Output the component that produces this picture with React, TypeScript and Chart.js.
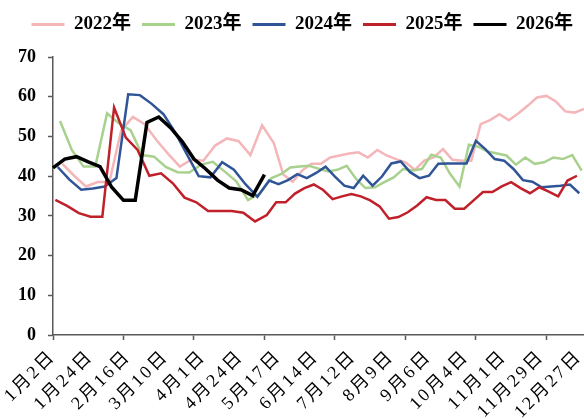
import React, { useEffect, useRef } from 'react';
import { Chart, registerables } from 'chart.js';

Chart.register(...registerables);

// ---- data ----
const SERIES_NAMES = ['2022年', '2023年', '2024年', '2025年', '2026年'];
const SERIES_YEARS = [2022, 2023, 2024, 2025, 2026];
// day of January of each series' first weekly observation
const FIRST_DAY = [7, 6, 5, 3, 2];
const COLORS = ['#F4B6B9', '#A9D18E', '#2F5597', '#C0202A', '#000000'];

const v2022 = [43.1, 40.1, 37.4, 38.5, 38.5, 51.5, 54.9, 53.1, 49.1, 45.6,
  42.4, 44.2, 43.9, 47.7, 49.5, 48.8, 45.3, 52.8, 48.3, 40.4,
  38.6, 41.4, 43.1, 43.1, 44.7, 45.2, 45.7, 46.0, 44.7, 46.6,
  45.2, 44.3, 43.5, 41.6, 43.9, 44.7, 46.8, 44.1, 43.9, 43.9,
  53.1, 54.1, 55.6, 54.1, 55.8, 57.7, 59.8, 60.2, 58.8, 56.3,
  56.0, 56.9];
const v2023 = [53.9, 46.6, 42.4, 42.4, 55.8, 53.3, 51.6, 45.3, 44.9, 42.3,
  41.0, 40.9, 42.9, 43.6, 41.2, 38.7, 34.0, 35.6, 39.5, 40.5,
  42.2, 42.4, 42.6, 41.9, 41.2, 41.6, 42.6, 39.3, 37.0, 37.2,
  38.5, 39.7, 41.8, 41.4, 41.8, 45.4, 44.7, 40.6, 37.4, 47.9,
  47.4, 46.2, 45.7, 45.2, 42.9, 44.7, 43.1, 43.5, 44.7, 44.3,
  45.3, 41.4];
const v2024 = [42.3, 39.1, 36.6, 36.9, 37.4, 39.5, 60.6, 60.4, 58.2, 55.6,
  51.0, 45.5, 40.0, 39.7, 43.5, 41.6, 37.9, 34.8, 38.9, 38.0,
  39.0, 40.5, 39.5, 40.8, 42.4, 39.9, 37.6, 37.0, 40.1, 37.6,
  39.9, 43.2, 43.7, 41.0, 39.5, 40.1, 43.1, 43.2, 43.2, 43.2,
  48.9, 46.8, 44.3, 43.9, 41.8, 39.0, 38.6, 37.2, 37.4, 37.6,
  37.9, 35.7];
const v2025 = [34.0, 32.5, 30.7, 29.8, 29.8, 57.3, 49.7, 46.6, 40.1, 40.7,
  38.2, 34.6, 33.4, 31.2, 31.2, 31.2, 30.8, 28.6, 30.2, 33.4,
  33.4, 35.6, 37.0, 37.9, 36.5, 34.2, 34.9, 35.5, 34.9, 33.9,
  32.4, 29.3, 29.7, 30.9, 32.6, 34.7, 34.0, 34.0, 31.8, 31.8,
  33.9, 36.0, 36.0, 37.4, 38.5, 37.0, 35.7, 37.2, 36.1, 34.9,
  38.9, 40.1];
const v2026 = [42.1, 44.3, 44.9, 43.6, 42.4, 37.2, 33.9, 33.9, 53.5, 54.9,
  52.2, 48.7, 44.3, 41.8, 39.0, 37.0, 36.6, 35.1, 40.4];

const SERIES_VALUES = [v2022, v2023, v2024, v2025, v2026];
const LINE_WIDTHS = [2.5, 2.5, 2.5, 2.5, 3.5];
const DRAW_ORDER = [4, 3, 2, 1, 0];

const LABEL_EVERY = 16;
const TICK_MARK_EVERY = 30;
const Y_MIN = 0;
const Y_MAX = 70;
const Y_STEP = 10;

const FONT_FAMILY = "'Liberation Serif', 'Noto Sans CJK SC', serif";

// ---- build category axis (union of month-day of every series) ----
const seriesKeys = SERIES_VALUES.map((vals, i) =>
  vals.map((_, k) => {
    const d = new Date(Date.UTC(SERIES_YEARS[i], 0, FIRST_DAY[i] + 7 * k));
    return (d.getUTCMonth() + 1) * 100 + d.getUTCDate();
  })
);
const allKeys = Array.from(new Set(seriesKeys.flat())).sort((a, b) => a - b);
const keyLabel = (k: number) => `${Math.floor(k / 100)}月${k % 100}日`;
const categories = allKeys.map(keyLabel);

const legendSpacer = {
  id: 'legendSpacer',
  beforeInit(chart: any) {
    const legend = chart.legend;
    if (!legend) return;
    const origFit = legend.fit;
    legend.fit = function fit() {
      origFit.call(this);
      this.height += 13;
    };
  },
};

// wider character spacing for the rotated date labels
const xLabelSpacing = {
  id: 'xLabelSpacing',
  beforeDraw(chart: any) {
    const sx = chart.scales.x;
    if (!sx || sx.__spaced) return;
    const orig = sx.drawLabels;
    sx.drawLabels = function (area: any) {
      const ctx = this.ctx;
      ctx.save();
      try {
        (ctx as any).letterSpacing = '2.5px';
      } catch (e) {
        /* ignore */
      }
      orig.call(this, area);
      ctx.restore();
    };
    sx.__spaced = true;
  },
};

export default function App() {
  const ref = useRef<HTMLCanvasElement | null>(null);

  useEffect(() => {
    if (!ref.current) return;
    const datasets = SERIES_VALUES.map((vals, i) => ({
      label: SERIES_NAMES[i],
      data: vals.map((y, k) => ({ x: keyLabel(seriesKeys[i][k]), y })),
      borderColor: COLORS[i],
      backgroundColor: COLORS[i],
      borderWidth: LINE_WIDTHS[i],
      pointRadius: 0,
      pointHoverRadius: 0,
      tension: 0,
      fill: false,
      order: DRAW_ORDER[i],
    }));

    const chart = new Chart(ref.current, {
      type: 'line',
      data: { labels: categories, datasets },
      plugins: [legendSpacer, xLabelSpacing],
      options: {
        animation: false,
        responsive: true,
        maintainAspectRatio: false,
        layout: { padding: { top: 4, left: 0, right: 0, bottom: 0 } },
        plugins: {
          tooltip: { enabled: false },
          legend: {
            position: 'top',
            align: 'end',
            labels: {
              boxWidth: 33,
              boxHeight: 3,
              padding: 11,
              color: '#000',
              font: { family: FONT_FAMILY, size: 19, weight: 'bold' },
              sort: (a: any, b: any) => a.datasetIndex - b.datasetIndex,
              generateLabels: (c: any) =>
                Chart.defaults.plugins.legend.labels
                  .generateLabels(c)
                  .map((l: any) => ({ ...l, lineWidth: 0, fillStyle: l.strokeStyle })),
            },
          },
        },
        scales: {
          x: {
            type: 'category',
            offset: false,
            afterFit: (s: any) => {
              s.height = 84;
              s.paddingRight = 0;
              s.paddingLeft = 0;
            },
            border: { display: true, color: '#595959', width: 1.5 },
            grid: {
              display: true,
              drawOnChartArea: false,
              drawTicks: true,
              tickLength: 5,
              tickColor: (ctx: any) =>
                ctx.index % TICK_MARK_EVERY === 0 ? '#595959' : 'rgba(0,0,0,0)',
              tickWidth: 1.5,
            },
            ticks: {
              autoSkip: false,
              maxRotation: 45,
              minRotation: 45,
              padding: 6,
              color: '#000',
              font: { family: FONT_FAMILY, size: 18 },
              callback: (_v: any, i: number) =>
                i % LABEL_EVERY === 0 ? categories[i] : '',
            },
          },
          y: {
            min: Y_MIN,
            max: Y_MAX,
            afterFit: (s: any) => {
              s.width = 53;
            },
            border: { display: true, color: '#595959', width: 1.5 },
            grid: {
              display: true,
              drawOnChartArea: false,
              drawTicks: true,
              tickLength: 5,
              tickColor: '#595959',
              tickWidth: 1.5,
            },
            ticks: {
              stepSize: Y_STEP,
              padding: 12,
              color: '#000',
              font: { family: FONT_FAMILY, size: 18, weight: 'bold' },
            },
          },
        },
      },
    } as any);

    return () => chart.destroy();
  }, []);

  return (
    <div
      style={{
        position: 'fixed',
        left: 0,
        top: 0,
        width: 584,
        height: 419,
        background: '#fff',
      }}
    >
      <canvas ref={ref} />
    </div>
  );
}
